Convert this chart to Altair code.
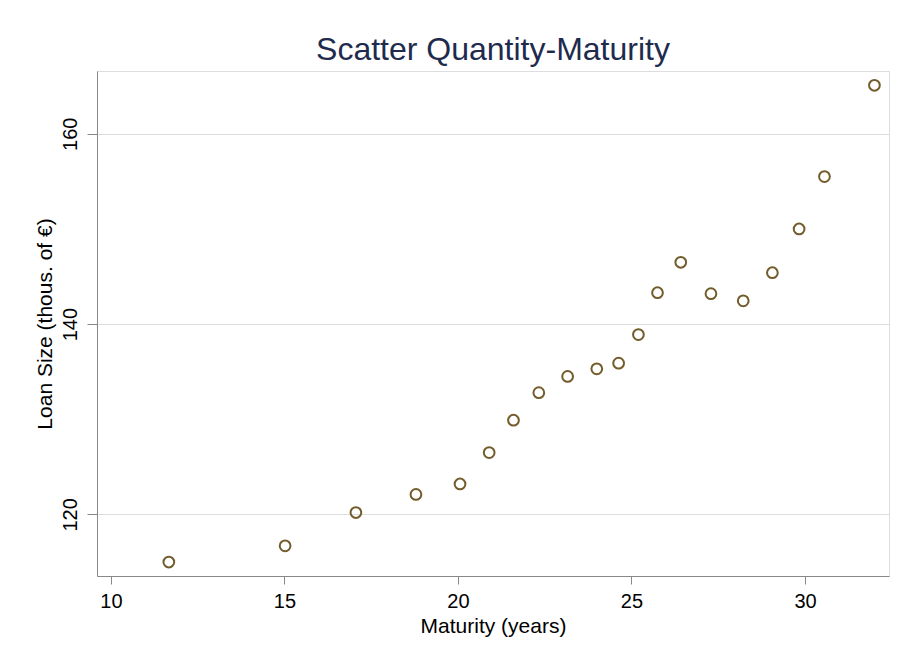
import altair as alt
import pandas as pd

maturity = [11.67, 15.02, 17.06, 18.79, 20.06, 20.90, 21.60, 22.33, 23.16, 24.00,
            24.63, 25.20, 25.75, 26.42, 27.29, 28.22, 29.06, 29.83, 30.56, 32.00]
loan_size = [115.0, 116.7, 120.2, 122.1, 123.2, 126.5, 129.9, 132.8, 134.5, 135.3,
             135.9, 138.9, 143.3, 146.5, 143.2, 142.45, 145.4, 150.0, 155.5, 165.1]
x_ticks = [10, 15, 20, 25, 30]
y_ticks = [120, 140, 160]

df = pd.DataFrame({"maturity": maturity, "loan": loan_size})

FONT = "Liberation Sans"

chart = alt.Chart(df).mark_point(
    shape="circle", filled=False, color="#725c2b", strokeWidth=2, size=115, opacity=1
).encode(
    x=alt.X("maturity:Q",
            scale=alt.Scale(domain=[9.6, 32.42], nice=False, zero=False),
            axis=alt.Axis(values=x_ticks, title="Maturity (years)", grid=False,
                          labelFontSize=20, titleFontSize=21, tickSize=8,
                          titleFontWeight="normal",
                          labelPadding=7, titlePadding=4)),
    y=alt.Y("loan:Q",
            scale=alt.Scale(domain=[113.53, 166.6], nice=False, zero=False),
            axis=alt.Axis(values=y_ticks, title="Loan Size (thous. of €)", grid=True,
                          labelFontSize=20, titleFontSize=21, tickSize=10,
                          titleFontWeight="normal",
                          labelAngle=270, labelAlign="center", labelBaseline="bottom",
                          labelPadding=7, titlePadding=5)),
).properties(
    width=792, height=505,
    title=alt.TitleParams("Scatter Quantity-Maturity", fontSize=32, font=FONT,
                          fontWeight="normal", color="#1e2b4d", anchor="middle",
                          offset=4),
    autosize=alt.AutoSizeParams(type="none"),
    padding={"left": 89, "top": 63, "right": 6, "bottom": 86},
).configure_view(
    stroke=None
).configure_axis(
    labelFont=FONT, titleFont=FONT, labelColor="#111111", titleColor="#111111",
    titleFontWeight="normal", domainColor="#4a4a4a", tickColor="#4a4a4a",
    domainWidth=1.5, tickWidth=1.5, gridColor="#e8eff3", gridWidth=1.2
).configure(background="white")

chart.save("out.html", embed_options={"renderer": "svg", "actions": False})
